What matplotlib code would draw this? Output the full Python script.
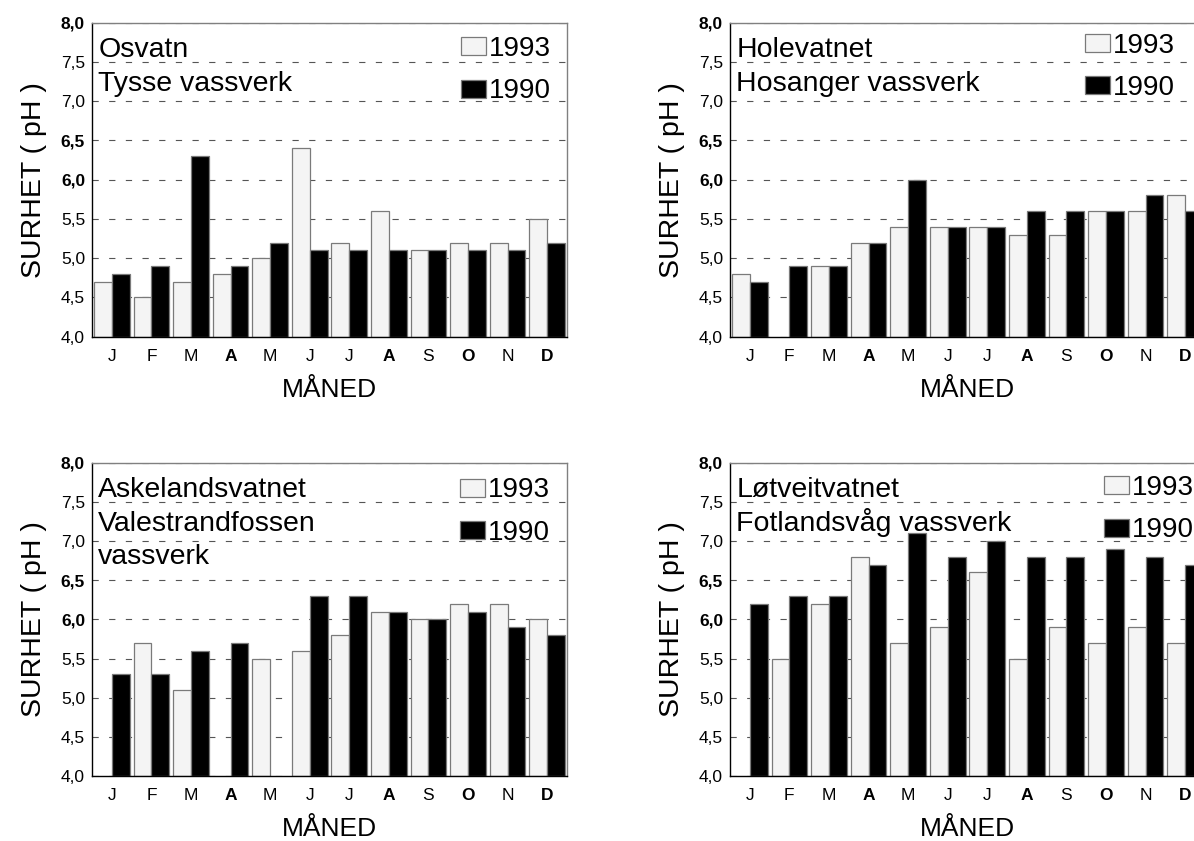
import numpy as np
import matplotlib
matplotlib.use("Agg")
import matplotlib.pyplot as plt

plt.rcParams['font.family'] = ['Liberation Sans', 'DejaVu Sans']
plt.rcParams['lines.scale_dashes'] = False

months = ["J", "F", "M", "A", "M", "J", "J", "A", "S", "O", "N", "D"]
bold_months = [3, 7, 9, 11]
yticks = [4.0, 4.5, 5.0, 5.5, 6.0, 6.5, 7.0, 7.5, 8.0]
ytick_labels = ["4,0", "4,5", "5,0", "5,5", "6,0", "6,5", "7,0", "7,5", "8,0"]
bold_yticks = ["6,0", "6,5", "8,0"]
series_labels = ["1993", "1990"]
nan = np.nan

# Osvatn / Tysse vassverk
osvatn_1993 = [4.7, 4.5, 4.7, 4.8, 5.0, 6.4, 5.2, 5.6, 5.1, 5.2, 5.2, 5.5]
osvatn_1990 = [4.8, 4.9, 6.3, 4.9, 5.2, 5.1, 5.1, 5.1, 5.1, 5.1, 5.1, 5.2]
# Holevatnet / Hosanger vassverk
hole_1993 = [4.8, nan, 4.9, 5.2, 5.4, 5.4, 5.4, 5.3, 5.3, 5.6, 5.6, 5.8]
hole_1990 = [4.7, 4.9, 4.9, 5.2, 6.0, 5.4, 5.4, 5.6, 5.6, 5.6, 5.8, 5.6]
# Askelandsvatnet / Valestrandfossen vassverk
askel_1993 = [nan, 5.7, 5.1, nan, 5.5, 5.6, 5.8, 6.1, 6.0, 6.2, 6.2, 6.0]
askel_1990 = [5.3, 5.3, 5.6, 5.7, nan, 6.3, 6.3, 6.1, 6.0, 6.1, 5.9, 5.8]
# Løtveitvatnet / Fotlandsvåg vassverk
lotv_1993 = [nan, 5.5, 6.2, 6.8, 5.7, 5.9, 6.6, 5.5, 5.9, 5.7, 5.9, 5.7]
lotv_1990 = [6.2, 6.3, 6.3, 6.7, 7.1, 6.8, 7.0, 6.8, 6.8, 6.9, 6.8, 6.7]

panels = [
    (["Osvatn", "Tysse vassverk"], osvatn_1993, osvatn_1990),
    (["Holevatnet", "Hosanger vassverk"], hole_1993, hole_1990),
    (["Askelandsvatnet", "Valestrandfossen", "vassverk"], askel_1993, askel_1990),
    (["Løtveitvatnet", "Fotlandsvåg vassverk"], lotv_1993, lotv_1990),
]

W, H = 1194, 841
fig = plt.figure(figsize=(W / 100, H / 100), dpi=100)

ax_w = 475 / W
positions = [
    [92 / W, (H - 336.7) / H, ax_w, 314 / H],
    [730 / W, (H - 336.7) / H, ax_w, 314 / H],
    [92 / W, (H - 776) / H, ax_w, 313.3 / H],
    [730 / W, (H - 776) / H, ax_w, 313.3 / H],
]
legend_anchor = [(0.966, 0.957), (0.937, 0.968), (0.964, 0.953), (0.977, 0.960)]

base = 4.0
bw = 0.45
x = np.arange(len(months))

for k, (title_lines, v93, v90) in enumerate(panels):
    ax = fig.add_axes(positions[k])
    a93 = np.array(v93, dtype=float)
    a90 = np.array(v90, dtype=float)
    b1 = ax.bar(x - bw / 2, a93 - base, bw, bottom=base, color="#f4f4f4",
                edgecolor="#7a7a7a", linewidth=0.9, zorder=2, label=series_labels[0])
    b2 = ax.bar(x + bw / 2, a90 - base, bw, bottom=base, color="black",
                edgecolor="#7a7a7a", linewidth=0.9, zorder=2, label=series_labels[1])
    ax.set_xlim(-0.5, 11.5)
    ax.set_ylim(4.0, 8.0)
    ax.set_yticks(yticks)
    ax.set_yticklabels(ytick_labels)
    ax.set_xticks(x)
    ax.set_xticklabels(months)
    for lab in ax.get_yticklabels():
        if lab.get_text() in bold_yticks:
            lab.set_fontweight("bold")
    for i, lab in enumerate(ax.get_xticklabels()):
        if i in bold_months:
            lab.set_fontweight("bold")
    ax.tick_params(axis="y", length=0, pad=5, labelsize=12.5)
    ax.tick_params(axis="x", length=0, pad=9, labelsize=12.5)
    ax.yaxis.grid(True, linestyle=(0, (4.5, 7.5)), color="#555555", linewidth=0.8, zorder=0)
    ax.set_axisbelow(True)
    for s in ["left", "bottom"]:
        ax.spines[s].set_color("black")
        ax.spines[s].set_linewidth(1.0)
    for s in ["top", "right"]:
        ax.spines[s].set_color("#808080")
        ax.spines[s].set_linewidth(1.0)
    ax.set_xlabel("MÅNED", fontsize=19, labelpad=10)
    ax.set_ylabel("SURHET ( pH )", fontsize=20.5, labelpad=10)
    y0 = 0.890
    for j, line in enumerate(title_lines):
        ax.text(0.013, y0 - j * 0.107, line, transform=ax.transAxes,
                fontsize=20.5, va="baseline", ha="left")
    ax.legend(handles=[b1, b2], labels=series_labels, loc="upper right",
              bbox_to_anchor=legend_anchor[k], frameon=False, fontsize=20,
              handlelength=0.9, handleheight=0.62, handletextpad=0.1,
              labelspacing=0.58, borderpad=0, borderaxespad=0)

fig.savefig("out.png", dpi=100)
